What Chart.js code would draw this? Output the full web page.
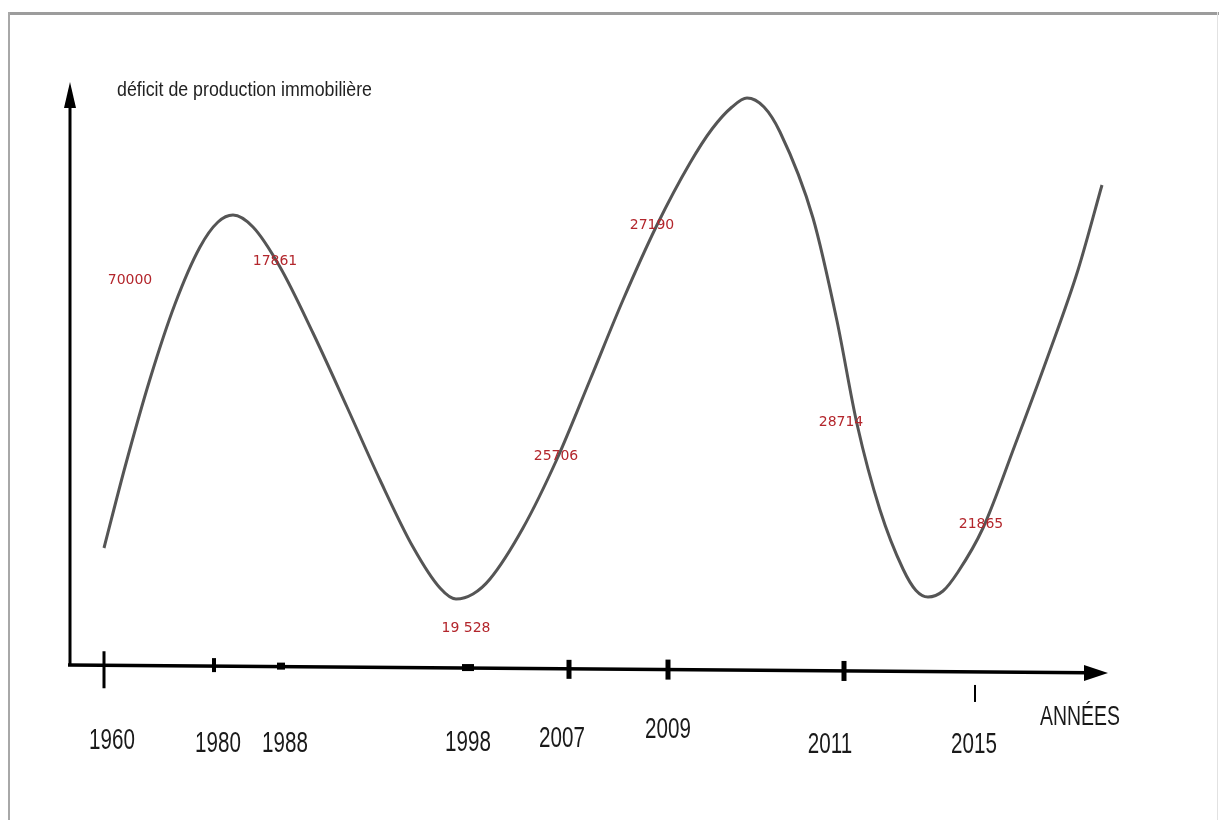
<!DOCTYPE html>
<html>
<head>
<meta charset="utf-8">
<script src="https://cdn.jsdelivr.net/npm/chart.js@4"></script>
<style>
  html, body { margin: 0; padding: 0; background: #fff; }
  canvas { display: block; }
</style>
</head>
<body>
<canvas id="schema" width="1219" height="820"></canvas>
<script>
// courbe schématique (unités arbitraires : x = position sur l'axe, y = niveau du déficit)
const curveX = [3.4, 5.5, 8.0, 10.5, 13.0, 14.8, 16.3,
    18.3, 21.0, 24.3, 27.7, 31.0, 34.3, 37.0, 38.6,
    40.3, 42.0, 45.3, 48.7, 52.0, 55.3, 58.7, 62.0, 64.2, 66.2, 67.7,
    69.4, 71.0, 74.3, 76.7, 78.7, 81.0, 83.3, 84.6, 85.8,
    87.3, 88.8, 91.3, 94.5, 97.8, 100.8, 103.2];
const curveY = [11.9, 20.0, 28.8, 36.3, 42.0, 44.5, 45.2,
    44.0, 40.0, 33.4, 26.0, 18.7, 12.0, 7.9, 6.8,
    7.3, 8.8, 13.9, 20.8, 28.7, 36.7, 44.2, 50.4, 53.8, 56.0, 56.9,
    56.0, 53.5, 44.9, 34.6, 24.3, 15.7, 9.8, 7.65, 7.0,
    7.6, 9.5, 13.9, 22.2, 31.1, 39.7, 48.2];

// années sur l'axe horizontal
const years = ['1960', '1980', '1988', '1998', '2007', '2009', '2011', '2015'];
const yearTicks = [3.4, 14.4, 21.1, 39.8, 49.9, 59.8, 77.4, 90.5];

// valeurs annotées en rouge
const valueLabels = ['70000', '17861', '27190', '25706', '19 528', '28714', '21865'];
const valueX = [6.0, 20.5, 58.2, 48.6, 39.6, 77.1, 91.1];
const valueY = [38.7, 40.6, 44.2, 21.1, 3.9, 24.5, 14.3];

const yTitle = 'déficit de production immobilière';
const xTitle = 'ANNÉES';

// mise en page des repères (pas des données)
const yearLabelX = [4.2, 14.8, 21.5, 39.8, 49.2, 59.8, 76.0, 90.4];
const yearLabelY = [-7.4, -7.7, -7.7, -7.6, -7.2, -6.3, -7.8, -7.8];
// [haut, bas, épaisseur] des traits de graduation, en px par rapport à l'axe
const tickStyle = [[-14, 23, 3], [-8, 6, 4], [-4, 3, 8], [-4, 3, 12], [-9, 10, 5], [-10, 10, 5], [-10, 10, 5], [13, 30, 2]];

function fitText(ctx, text, cx, cy, font, sx, color) {
    ctx.save();
    ctx.font = font;
    ctx.fillStyle = color;
    ctx.textAlign = 'center';
    ctx.textBaseline = 'middle';
    ctx.translate(cx, cy);
    ctx.scale(sx, 1);
    ctx.fillText(text, 0, 0);
    ctx.restore();
}

const schemaPlugin = {
    id: 'schema',
    beforeDraw(chart) {
        const c = chart.ctx;
        const W = chart.width, H = chart.height;
        c.save();
        c.fillStyle = '#fff';
        c.fillRect(0, 0, W, H);
        // cadre gris
        c.fillStyle = '#9c9c9c';
        c.fillRect(8, 12, W - 8, 3);
        c.fillStyle = '#a8a8a8';
        c.fillRect(8, 12, 2, H - 12);
        c.fillStyle = '#e2e2e2';
        c.fillRect(W - 2, 12, 1, H - 12);
        c.restore();
    },
    afterDraw(chart) {
        const c = chart.ctx;
        const xs = chart.scales.x, ys = chart.scales.y;
        const x0 = xs.getPixelForValue(0);
        const axisY = v => ys.getPixelForValue(0.2 - 0.8 * v / 104);

        c.save();
        c.strokeStyle = '#000';
        c.fillStyle = '#000';
        c.lineCap = 'butt';

        // axe vertical + flèche
        c.lineWidth = 3;
        c.beginPath();
        c.moveTo(x0, axisY(0) + 1);
        c.lineTo(x0, ys.getPixelForValue(57.0));
        c.stroke();
        const tipY = ys.getPixelForValue(58.5);
        c.beginPath();
        c.moveTo(x0, tipY);
        c.lineTo(x0 - 6, tipY + 26);
        c.lineTo(x0 + 6, tipY + 26);
        c.closePath();
        c.fill();

        // axe horizontal + flèche
        const xEnd = xs.getPixelForValue(103.8);
        c.lineWidth = 3.5;
        c.beginPath();
        c.moveTo(x0 - 2, axisY(0));
        c.lineTo(xEnd - 20, axisY(101.8));
        c.stroke();
        const ty = axisY(103.8);
        c.beginPath();
        c.moveTo(xEnd, ty);
        c.lineTo(xEnd - 24, ty - 8);
        c.lineTo(xEnd - 24, ty + 8);
        c.closePath();
        c.fill();

        // graduations
        yearTicks.forEach((v, i) => {
            const px = xs.getPixelForValue(v);
            const ay = axisY(v);
            const [t, b, w] = tickStyle[i];
            c.fillRect(px - w / 2, ay + t, w, b - t);
        });

        // années
        years.forEach((y, i) => {
            fitText(c, y, xs.getPixelForValue(yearLabelX[i]), ys.getPixelForValue(yearLabelY[i]),
                '29px "Liberation Sans", Arial, sans-serif', 0.71, '#1a1a1a');
        });

        // titres des axes
        fitText(c, xTitle, xs.getPixelForValue(101.0), ys.getPixelForValue(-5.1),
            '27px "Liberation Sans", Arial, sans-serif', 0.72, '#1a1a1a');
        c.font = '20px "Liberation Sans", Arial, sans-serif';
        const tw = c.measureText(yTitle).width;
        fitText(c, yTitle, 117 + 255 / 2, 90, '20px "Liberation Sans", Arial, sans-serif', 255 / tw, '#222');

        // valeurs en rouge
        valueLabels.forEach((t, i) => {
            fitText(c, t, xs.getPixelForValue(valueX[i]), ys.getPixelForValue(valueY[i]),
                '14px "DejaVu Sans", sans-serif', 1.0, '#b3262c');
        });
        c.restore();
    }
};

const points = curveX.map((x, i) => ({ x: x, y: curveY[i] }));

new Chart(document.getElementById('schema').getContext('2d'), {
    type: 'line',
    data: {
        datasets: [{
            data: points,
            borderColor: '#555',
            borderWidth: 3,
            pointRadius: 0,
            fill: false,
            cubicInterpolationMode: 'monotone'
        }]
    },
    options: {
        responsive: false,
        animation: false,
        devicePixelRatio: 1,
        layout: { padding: { left: 70, right: 109, top: 67, bottom: 153 } },
        plugins: { legend: { display: false }, tooltip: { enabled: false } },
        scales: {
            x: { type: 'linear', min: 0, max: 104, display: false },
            y: { min: 0, max: 60, display: false }
        }
    },
    plugins: [schemaPlugin]
});
</script>
</body>
</html>
